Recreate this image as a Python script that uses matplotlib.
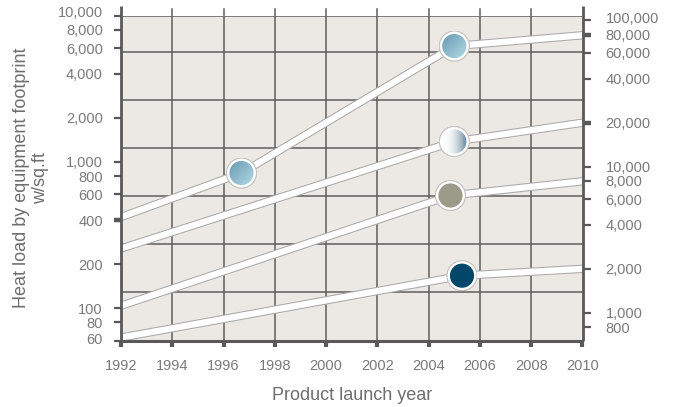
import numpy as np
import matplotlib
matplotlib.use("Agg")
import matplotlib.pyplot as plt
from matplotlib.ticker import FixedLocator, FixedFormatter, NullLocator
from matplotlib.patches import Circle
from matplotlib.lines import Line2D
from matplotlib.colors import to_rgb
from matplotlib.transforms import Affine2D

plt.rcParams['font.family'] = ['Liberation Sans', 'DejaVu Sans']

# ---------------- data ----------------
years_a = [1992, 1996.7, 2005.0, 2010]
heat_a = [420, 840, 6200, 7350]
years_b = [1992, 2005.0, 2010]
heat_b = [256, 1380, 1855]
years_c = [1992, 2004.85, 2010]
heat_c = [104, 590, 738]
years_d = [1992, 2005.3, 2010]
heat_d = [63, 167, 186]

marker_years = [1996.7, 2005.0, 2005.0, 2004.85, 2005.3]
marker_heat = [840, 6200, 1380, 590, 167]
marker_styles = ['blue', 'blue', 'silver', 'grey', 'navy']

x_ticks = list(range(1992, 2011, 2))
left_ticks = [60, 80, 100, 200, 400, 600, 800, 1000, 2000, 4000, 6000, 8000, 10000]
right_ticks = [800, 1000, 2000, 4000, 6000, 8000, 10000, 20000, 40000, 60000, 80000, 100000]
WSQFT_TO_WM2 = 10.764

x_label = "Product launch year"
y_label = "Heat load by equipment footprint\nw/sq.ft"

# ---------------- style ----------------
W, H = 678, 407
BG = '#ece9e4'
DARK = '#595959'
TXT = '#7a7a7a'

fig = plt.figure(figsize=(W / 100, H / 100), dpi=100)
ax = fig.add_axes([121 / W, (H - 340.7) / H, 461.5 / W, 325 / H])
ax.set_facecolor(BG)
ax.set_yscale('log')
ax.set_xlim(1992, 2010)
ax.set_ylim(60, 10000)
for s in ax.spines.values():
    s.set_visible(False)

# grid
for yr in x_ticks[1:-1]:
    ax.axvline(yr, ymin=0, ymax=1.02, color='#5e5e5e', lw=1.1, zorder=1, clip_on=False)
for f in [0.1505, 0.2978, 0.4452, 0.5926, 0.7400, 0.8874, 1.0]:
    ax.plot([0, 1], [f, f], transform=ax.transAxes, color='#5e5e5e', lw=1.1, zorder=1)

# spines (manual, extending above the top)
ext = 1 + 9.7 / 325
for xx in (0, 1):
    ax.add_line(Line2D([xx, xx], [0, ext], transform=ax.transAxes, color=DARK,
                       lw=2.0, clip_on=False, zorder=5, solid_capstyle='butt'))
ax.add_line(Line2D([0, 1], [0, 0], transform=ax.transAxes, color=DARK,
                   lw=2.2, clip_on=False, zorder=5, solid_capstyle='butt'))

# series bands
for xs, ys in [(years_a, heat_a), (years_b, heat_b), (years_c, heat_c), (years_d, heat_d)]:
    ax.plot(xs, ys, color='#a9a9a9', lw=6.0, zorder=3, solid_capstyle='butt', solid_joinstyle='round')
    ax.plot(xs, ys, color='white', lw=4.5, zorder=4, solid_capstyle='butt', solid_joinstyle='round')

# ticks
ax.xaxis.set_major_locator(FixedLocator(x_ticks))
ax.xaxis.set_major_formatter(FixedFormatter([str(v) for v in x_ticks]))
ax.xaxis.set_minor_locator(NullLocator())
ax.tick_params(axis='x', length=4.5, width=3.0, color=DARK, pad=9, labelsize=10.5, labelcolor=TXT)

ax.yaxis.set_major_locator(FixedLocator(left_ticks))
ax.yaxis.set_major_formatter(FixedFormatter([f"{v:,}" for v in left_ticks]))
ax.yaxis.set_minor_locator(NullLocator())
ax.tick_params(axis='y', length=5, width=1.6, color=DARK, pad=8, labelsize=10.5, labelcolor=TXT)

sec = ax.secondary_yaxis('right', functions=(lambda v: v * WSQFT_TO_WM2, lambda v: v / WSQFT_TO_WM2))
for s in sec.spines.values():
    s.set_visible(False)
sec.yaxis.set_major_locator(FixedLocator(right_ticks))
sec.yaxis.set_major_formatter(FixedFormatter([f"{v:,}" for v in right_ticks]))
sec.yaxis.set_minor_locator(NullLocator())
sec.tick_params(axis='y', length=5.7, width=1.6, color=DARK, pad=11, labelsize=10.5, labelcolor=TXT)

# emphasised ticks where bands meet the axes
lt = ax.yaxis.get_major_ticks()
lt[left_ticks.index(400)].tick1line.set_markeredgewidth(3.2)
rt = sec.yaxis.get_major_ticks()
for v in (20000, 80000):
    rt[right_ticks.index(v)].tick2line.set_markeredgewidth(3.2)
    rt[right_ticks.index(v)].tick1line.set_markeredgewidth(3.2)

# nudge crowded edge labels as in the original
for tk, dy in ((lt[left_ticks.index(10000)], 4), (lt[left_ticks.index(60)], 2)):
    tk.label1.set_transform(tk.label1.get_transform() + Affine2D().translate(0, dy))
tk = rt[right_ticks.index(100000)]
tk.label2.set_transform(tk.label2.get_transform() + Affine2D().translate(0, 3))

# labels
ax.set_xlabel(x_label, fontsize=13, color='#6e6e6e', va='center')
ax.xaxis.set_label_coords(0.5, (340.7 - 395) / 325)
ax.set_ylabel(y_label, fontsize=13, color='#6e6e6e', ha='center', va='center',
              multialignment='center', linespacing=1.15)
ax.yaxis.set_label_coords((31 - 121) / 461.5, 0.5)


# markers
def gradient(style, n=64):
    g = np.linspace(-1, 1, n)
    X, Y = np.meshgrid(g, -g)
    if style == 'blue':
        t = np.clip((X - Y + 2) / 4, 0, 1)
        c0, c1 = np.array(to_rgb('#6798b0')), np.array(to_rgb('#b2dae6'))
    elif style == 'silver':
        t = np.clip((X + 1) / 2, 0, 1) ** 2.2
        c0, c1 = np.array(to_rgb('#ffffff')), np.array(to_rgb('#5f8298'))
    elif style == 'grey':
        t = np.zeros_like(X)
        c0 = c1 = np.array(to_rgb('#9c9b89'))
    else:
        t = np.zeros_like(X)
        c0 = c1 = np.array(to_rgb('#00476a'))
    return c0[None, None, :] * (1 - t[..., None]) + c1[None, None, :] * t[..., None]


r = 15.5
for x, y, style in zip(marker_years, marker_heat, marker_styles):
    px, py = ax.transData.transform((x, y))
    m = fig.add_axes([(px - r) / W, (py - r) / H, 2 * r / W, 2 * r / H])
    m.axis('off')
    m.add_patch(Circle((0, 0), 0.97, fc='white', ec='#c4c4c4', lw=0.9, zorder=1))
    inner = Circle((0, 0), 0.78, fc='none', ec='none', transform=m.transData)
    m.add_patch(inner)
    im = m.imshow(gradient(style), extent=(-0.8, 0.8, -0.8, 0.8),
                  interpolation='bilinear', zorder=3)
    im.set_clip_path(inner)
    m.set_xlim(-1, 1)
    m.set_ylim(-1, 1)

fig.savefig('out.png', dpi=100)
